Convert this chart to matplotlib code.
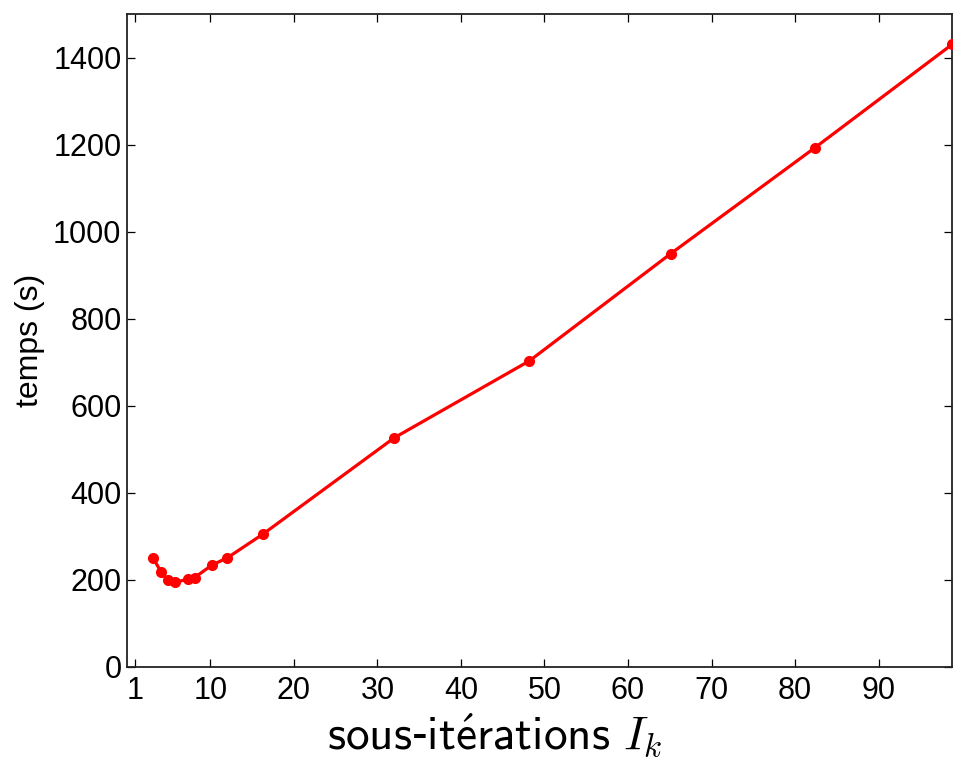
import matplotlib
matplotlib.use("Agg")
import matplotlib.pyplot as plt

# Temps de calcul en fonction du nombre de sous-itérations
sous_iterations = [3.1, 4.1, 4.9, 5.7, 7.3, 8.1, 10.2, 12.0, 16.3, 32.0, 48.2, 65.1, 82.4, 98.8]
temps = [251, 217, 199, 194, 201, 205, 234, 250, 305, 526, 703, 949, 1193, 1430]

x_ticks = [1, 10, 20, 30, 40, 50, 60, 70, 80, 90]
y_ticks = [0, 200, 400, 600, 800, 1000, 1200, 1400]

plt.rcParams['font.family'] = ['Liberation Sans', 'DejaVu Sans']
plt.rcParams['mathtext.fontset'] = 'cm'

fig = plt.figure(figsize=(9.54, 7.66), dpi=100)
ax = fig.add_axes([0.1331, 0.1296, 0.8648, 0.8521])

ax.plot(sous_iterations, temps, color='#ff0000', linewidth=2.3,
        marker='o', markersize=7, clip_on=False, zorder=3)

ax.set_xlim(0, 98.8)
ax.set_ylim(0, 1500)
ax.set_xticks(x_ticks)
ax.set_yticks(y_ticks)

ax.tick_params(direction='in', top=True, right=True, length=6, width=0.9,
               labelsize=22, colors='black')
ax.tick_params(axis='x', pad=7)
ax.tick_params(axis='y', pad=4)
for s in ax.spines.values():
    s.set_linewidth(1.3)
    s.set_color('#222222')

ax.set_ylabel('temps (s)', fontsize=23, labelpad=6)
ax.set_xlabel(r'$\mathsf{sous}$-$\mathsf{it\acute{e}rations}\ I_k$', fontsize=34,
              labelpad=4, x=0.446)

fig.savefig('out.png', dpi=100)
